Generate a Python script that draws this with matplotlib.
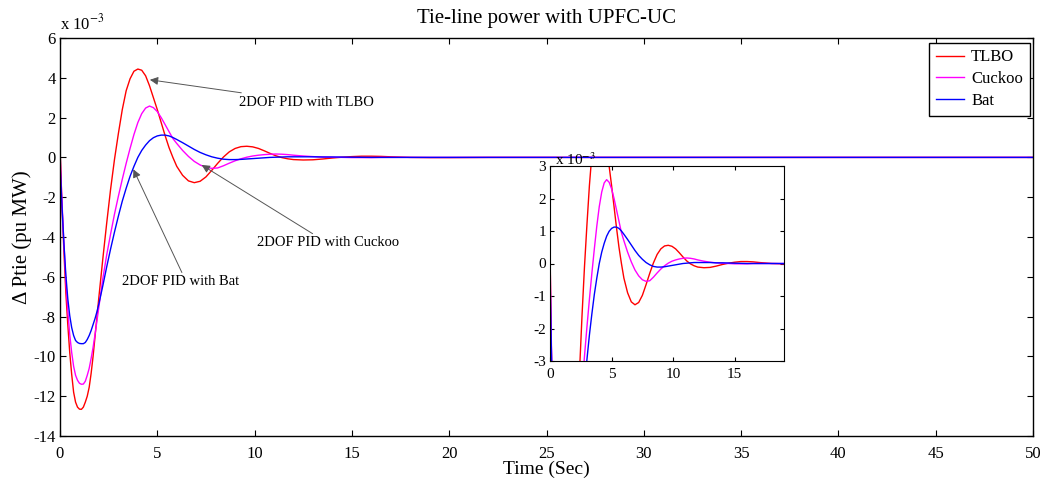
import matplotlib
matplotlib.use("Agg")
import matplotlib.pyplot as plt
import numpy as np

plt.rcParams['font.family'] = ['Liberation Serif', 'DejaVu Serif']
plt.rcParams['mathtext.fontset'] = 'stix'
plt.rcParams['axes.unicode_minus'] = False

# ---- data (values in units of 1e-3 pu MW) ----
time_s = [0.0, 0.1, 0.2, 0.3, 0.4, 0.5, 0.6, 0.7, 0.8, 0.9, 1.0, 1.1, 1.2, 1.3, 1.4,
          1.5, 1.6, 1.7, 1.8, 1.9, 2.0, 2.2, 2.4, 2.6, 2.8, 3.0, 3.2, 3.4, 3.6, 3.8,
          4.0, 4.2, 4.4, 4.6, 4.8, 5.0, 5.2, 5.4, 5.6, 5.8, 6.0, 6.3, 6.6, 6.9, 7.2,
          7.5, 7.8, 8.1, 8.4, 8.7, 9.0, 9.3, 9.6, 9.9, 10.2, 10.5, 10.8, 11.1, 11.4,
          11.7, 12.0, 12.5, 13.0, 13.5, 14.0, 14.5, 15.0, 15.5, 16.0, 16.5, 17.0,
          18.0, 19.0, 20.0, 22.0, 25.0, 30.0, 35.0, 40.0, 45.0, 50.0]

tlbo = [0.5, -2.4, -4.7, -6.8, -8.4, -9.8, -10.9, -11.8, -12.3, -12.55, -12.65, -12.66,
        -12.55, -12.3, -12.0, -11.55, -10.85, -10.0, -9.0, -8.0, -7.0, -5.1, -3.3, -1.6,
        -0.1, 1.2, 2.4, 3.35, 3.95, 4.33, 4.44, 4.38, 4.1, 3.6, 3.0, 2.4, 1.75, 1.1, 0.5,
        0.0, -0.45, -0.9, -1.18, -1.27, -1.2, -0.98, -0.65, -0.3, 0.02, 0.28, 0.45, 0.54,
        0.56, 0.53, 0.45, 0.33, 0.2, 0.08, -0.01, -0.07, -0.11, -0.13, -0.12, -0.08, -0.03,
        0.01, 0.04, 0.06, 0.06, 0.05, 0.03, 0.0, -0.01, -0.01, 0.0, 0.0, 0.0, 0.0, 0.0,
        0.0, 0.0]

cuckoo = [0.3, -2.2, -4.3, -6.2, -7.7, -8.9, -9.8, -10.5, -10.95, -11.2, -11.35, -11.4,
          -11.39, -11.25, -10.95, -10.6, -10.1, -9.55, -8.9, -8.2, -7.5, -6.1, -4.9, -3.85,
          -2.85, -1.95, -1.1, -0.3, 0.45, 1.15, 1.75, 2.2, 2.48, 2.58, 2.5, 2.3, 2.0, 1.65,
          1.3, 0.95, 0.7, 0.35, 0.05, -0.2, -0.38, -0.5, -0.55, -0.53, -0.42, -0.29, -0.17,
          -0.07, 0.01, 0.07, 0.11, 0.14, 0.16, 0.17, 0.16, 0.14, 0.11, 0.07, 0.04, 0.02,
          0.01, 0.0, -0.01, -0.01, -0.01, 0.0, 0.0, 0.0, 0.0, 0.0, 0.0, 0.0, 0.0, 0.0, 0.0,
          0.0, 0.0]

bat = [-0.3, -2.4, -4.3, -5.9, -7.1, -7.95, -8.55, -8.95, -9.2, -9.3, -9.35, -9.36,
       -9.36, -9.3, -9.15, -8.95, -8.7, -8.4, -8.1, -7.75, -7.35, -6.45, -5.5, -4.6, -3.75,
       -2.95, -2.2, -1.55, -0.95, -0.45, 0.0, 0.35, 0.62, 0.84, 0.99, 1.08, 1.12, 1.12,
       1.08, 1.0, 0.9, 0.74, 0.57, 0.4, 0.25, 0.13, 0.03, -0.04, -0.09, -0.11, -0.11, -0.1,
       -0.08, -0.06, -0.04, -0.02, 0.0, 0.01, 0.02, 0.03, 0.03, 0.03, 0.03, 0.02, 0.02,
       0.015, 0.01, 0.005, 0.0, 0.0, 0.0, 0.0, 0.0, 0.0, 0.0, 0.0, 0.0, 0.0, 0.0, 0.0, 0.0]

series_names = ['TLBO', 'Cuckoo', 'Bat']
series_colors = ['#ff0000', '#ff00ff', '#0000ff']
main_yticks = [-14, -12, -10, -8, -6, -4, -2, 0, 2, 4, 6]
main_xticks = [0, 5, 10, 15, 20, 25, 30, 35, 40, 45, 50]
inset_yticks = [-3, -2, -1, 0, 1, 2, 3]
inset_xticks = [0, 5, 10, 15]

W, H = 1045, 482
fig = plt.figure(figsize=(W / 100, H / 100), dpi=100)
ax = fig.add_axes([60 / W, 1 - 436 / H, (1033 - 60) / W, (436 - 38) / H])

series = [tlbo, cuckoo, bat]
for vals, name, col in zip(series, series_names, series_colors):
    ax.plot(time_s, vals, color=col, lw=1.0, label=name)

ax.set_xlim(0, 50)
ax.set_ylim(-14, 6)
ax.set_xticks(main_xticks)
ax.set_yticks(main_yticks)
ax.tick_params(direction='in', top=True, right=True, length=4, width=0.8,
               labelsize=12, pad=3)
ax.tick_params(axis='x', pad=7)
for s in ax.spines.values():
    s.set_linewidth(1.0)
ax.set_title('Tie-line power with UPFC-UC', fontsize=15, pad=11)
ax.set_xlabel('Time (Sec)', fontsize=14, labelpad=-1)
ax.set_ylabel('Δ Ptie (pu MW)', fontsize=15, labelpad=1)
ax.text(0.0, 1.012, r'x 10$^{-3}$', transform=ax.transAxes, fontsize=12,
        ha='left', va='bottom')

leg = ax.legend(loc='upper right', bbox_to_anchor=(0.9965, 0.988), fontsize=12,
                frameon=True, fancybox=False, edgecolor='black', framealpha=1,
                handlelength=1.7, handletextpad=0.4, borderpad=0.4, labelspacing=0.35,
                borderaxespad=0)
leg.get_frame().set_linewidth(1.0)

arrow_kw = dict(arrowstyle='-|>', color='#555555', lw=0.7,
                mutation_scale=12, shrinkA=0, shrinkB=0)
ax.annotate('2DOF PID with TLBO', xy=(4.62, 3.9), xytext=(9.2, 2.78),
            fontsize=10.5, va='center', ha='left',
            arrowprops=dict(arrow_kw, facecolor='black', edgecolor='#555555'))
ax.annotate('2DOF PID with Cuckoo', xy=(7.28, -0.38), xytext=(10.1, -4.3),
            fontsize=10.5, va='center', ha='left',
            arrowprops=dict(arrow_kw, facecolor='black', edgecolor='#555555'))
ax.annotate('2DOF PID with Bat', xy=(3.77, -0.6), xytext=(3.2, -6.25),
            fontsize=10.5, va='center', ha='left',
            arrowprops=dict(arrow_kw, facecolor='black', edgecolor='#555555',
                            relpos=(0.52, 1.0)))

# ---- inset ----
axi = fig.add_axes([550 / W, 1 - 361 / H, (784 - 550) / W, (361 - 166) / H])
for vals, col in zip(series, series_colors):
    axi.plot(time_s, vals, color=col, lw=1.0)
axi.set_xlim(0, 19)
axi.set_ylim(-3, 3)
axi.set_xticks(inset_xticks)
axi.set_yticks(inset_yticks)
axi.tick_params(direction='in', top=True, right=True, length=3, width=0.8,
                labelsize=11, pad=3)
axi.tick_params(axis='x', pad=5)
axi.text(0.02, 0.99, r'x 10$^{-3}$', transform=axi.transAxes, fontsize=11,
         ha='left', va='bottom', zorder=0)

fig.savefig('out.png', dpi=100)
